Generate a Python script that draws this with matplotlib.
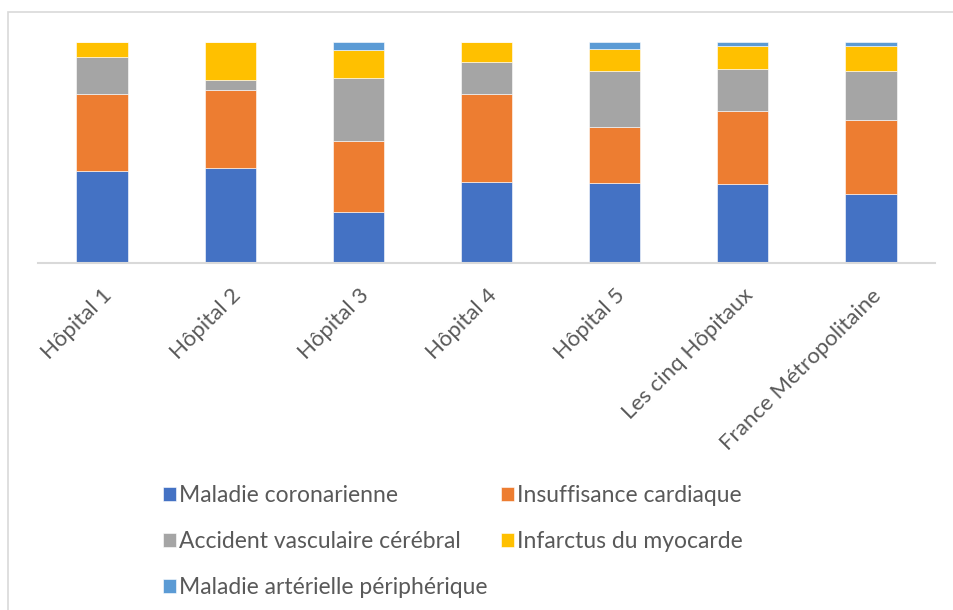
import matplotlib
matplotlib.use("Agg")
import matplotlib.pyplot as plt
from matplotlib.patches import Rectangle
import numpy as np

plt.rcParams['font.family'] = ['Lato', 'DejaVu Sans']

# catégories (axe x)
categories = ["Hôpital 1", "Hôpital 2", "Hôpital 3", "Hôpital 4", "Hôpital 5",
              "Les cinq Hôpitaux", "France Métropolitaine"]

# parts (%), empilées de bas en haut
maladie_coronarienne = [41.5, 43.1, 23.0, 36.6, 36.3, 35.8, 31.4]
insuffisance_cardiaque = [35.0, 35.0, 32.3, 40.0, 25.2, 33.1, 33.4]
accident_vasculaire = [16.5, 4.5, 28.4, 14.5, 25.2, 18.9, 21.9]
infarctus_myocarde = [6.9, 17.4, 12.8, 8.9, 10.0, 10.6, 11.6]
maladie_arterielle = [0.0, 0.0, 3.5, 0.0, 3.3, 1.7, 1.7]

series = [
    ("Maladie coronarienne", maladie_coronarienne, "#4472C4"),
    ("Insuffisance cardiaque", insuffisance_cardiaque, "#ED7D31"),
    ("Accident vasculaire cérébral", accident_vasculaire, "#A5A5A5"),
    ("Infarctus du myocarde", infarctus_myocarde, "#FFC000"),
    ("Maladie artérielle périphérique", maladie_arterielle, "#5B9BD5"),
]

fig = plt.figure(figsize=(9.54, 6.10), dpi=100)
ax = fig.add_axes([38 / 954, 1 - 263 / 610, 897 / 954, 221 / 610])

x = np.arange(len(categories))
totals = np.sum([np.array(s[1]) for s in series], axis=0)
bottom = np.zeros(len(categories))
handles = {}
for name, vals, col in series:
    frac = np.array(vals) / totals
    b = ax.bar(x, frac, 0.4, bottom=bottom, color=col, edgecolor="white",
               linewidth=0.4, label=name)
    handles[name] = b
    bottom += frac

ax.set_xlim(-0.5, len(categories) - 0.5)
ax.set_ylim(0, 1)
ax.set_yticks([])
for side in ["left", "right", "top"]:
    ax.spines[side].set_visible(False)
ax.spines["bottom"].set_color("#d9d9d9")
ax.spines["bottom"].set_linewidth(1.5)
ax.set_xticks(x)
ax.set_xticklabels(categories, rotation=45, ha="right", rotation_mode="anchor",
                   fontsize=16, color="#595959")
ax.tick_params(axis="x", length=0, pad=16)

# légende sur deux colonnes, remplie ligne par ligne
order = ["Maladie coronarienne", "Accident vasculaire cérébral",
         "Maladie artérielle périphérique", "Insuffisance cardiaque",
         "Infarctus du myocarde"]
leg = fig.legend([handles[n] for n in order], order, ncol=2, loc="upper left",
                 bbox_to_anchor=(163 / 954, 1 - 485 / 610), frameon=False,
                 fontsize=16.5, handlelength=0.55, handleheight=0.55,
                 handletextpad=0.15, columnspacing=0.6, labelspacing=1.1,
                 borderpad=0, borderaxespad=0)
for t in leg.get_texts():
    t.set_color("#595959")

# cadre du graphique
fig.patches.append(Rectangle((8 / 954, -0.05), 1.0, 1 - 12 / 610 + 0.05,
                             transform=fig.transFigure, fill=False,
                             edgecolor="#d9d9d9", linewidth=1.2))

fig.savefig("out.png", dpi=100)
